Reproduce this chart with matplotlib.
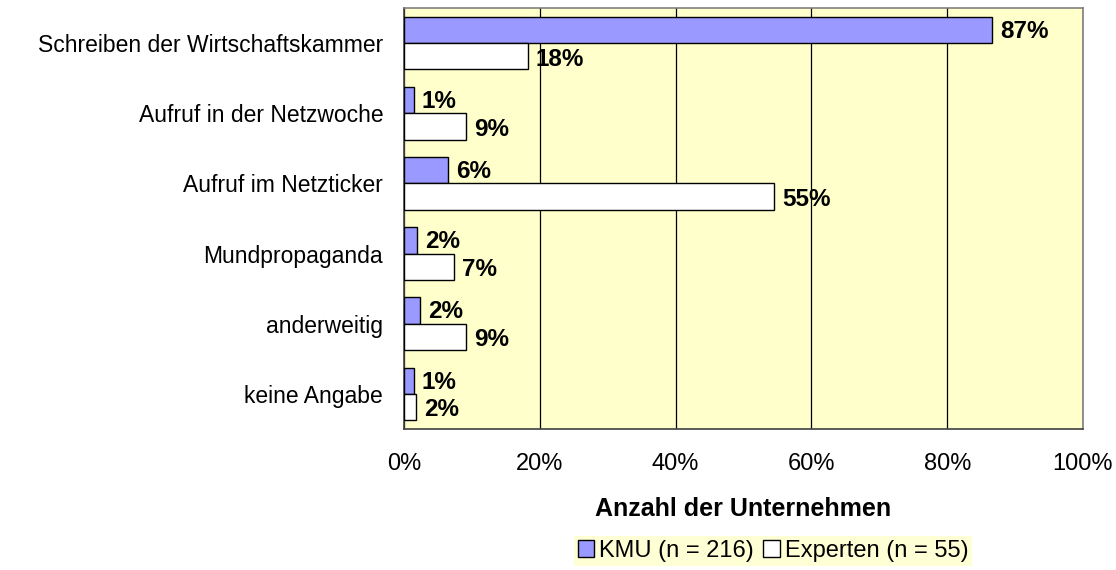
import matplotlib
matplotlib.use("Agg")
import matplotlib.pyplot as plt
from matplotlib.patches import Patch
import numpy as np

categories = ["Schreiben der Wirtschaftskammer", "Aufruf in der Netzwoche",
              "Aufruf im Netzticker", "Mundpropaganda", "anderweitig", "keine Angabe"]
kmu = [86.6, 1.4, 6.5, 1.9, 2.3, 1.4]
experten = [18.2, 9.1, 54.5, 7.3, 9.1, 1.8]
series_names = ["KMU (n = 216)", "Experten (n = 55)"]
xticks = [0, 20, 40, 60, 80, 100]
xlabel = "Anzahl der Unternehmen"

plt.rcParams['font.family'] = ['Liberation Sans', 'DejaVu Sans']

fig = plt.figure(figsize=(11.16, 5.70), dpi=100)
ax = fig.add_axes([404/1116, 1-429/570, (1083-404)/1116, (429-8)/570])
ax.set_facecolor('#FFFFCC')

y = np.arange(len(categories))
h = 0.375
ax.barh(y - h/2, kmu, height=h, color='#9999FF', edgecolor='black', linewidth=1, zorder=3)
ax.barh(y + h/2, experten, height=h, color='white', edgecolor='black', linewidth=1, zorder=3)

for yi, v in zip(y, kmu):
    ax.text(v + 1.2, yi - h/2 + 0.02, f"{v:.0f}%", va='center', ha='left', fontsize=17.5, fontweight='bold', zorder=4)
for yi, v in zip(y, experten):
    ax.text(v + 1.2, yi + h/2 + 0.04, f"{round(v + 1e-9):.0f}%", va='center', ha='left', fontsize=17.5, fontweight='bold', zorder=4)

ax.set_xlim(0, 100)
ax.set_ylim(len(categories) - 0.5, -0.5)
ax.set_xticks(xticks)
ax.set_xticklabels([f"{t}%" for t in xticks], fontsize=17)
ax.tick_params(axis='both', length=0)
ax.set_yticks(y)
ax.set_yticklabels(categories, fontsize=16.5)
ax.tick_params(axis='x', pad=17)
ax.tick_params(axis='y', pad=15)
ax.xaxis.grid(True, color='black', linewidth=0.9, zorder=1)
ax.set_axisbelow(True)
for s in ['top', 'right']:
    ax.spines[s].set_color('#808080')
for s in ['left', 'bottom']:
    ax.spines[s].set_color('#404040')
for s in ax.spines.values():
    s.set_linewidth(1.2)

ax.set_xlabel(xlabel, fontsize=18, fontweight='bold', labelpad=16)

handles = [Patch(facecolor='#9999FF', edgecolor='black'), Patch(facecolor='white', edgecolor='black')]
leg = fig.legend(handles, series_names, loc='center', bbox_to_anchor=(773/1116, 1-551/570),
                 ncol=2, frameon=True, fontsize=17, handlelength=0.7, handleheight=0.7,
                 handletextpad=0.2, columnspacing=0.4, borderpad=0.15, fancybox=False)
leg.get_frame().set_facecolor('#FFFFCC')
leg.get_frame().set_edgecolor('none')

fig.savefig("out.png", dpi=100)
